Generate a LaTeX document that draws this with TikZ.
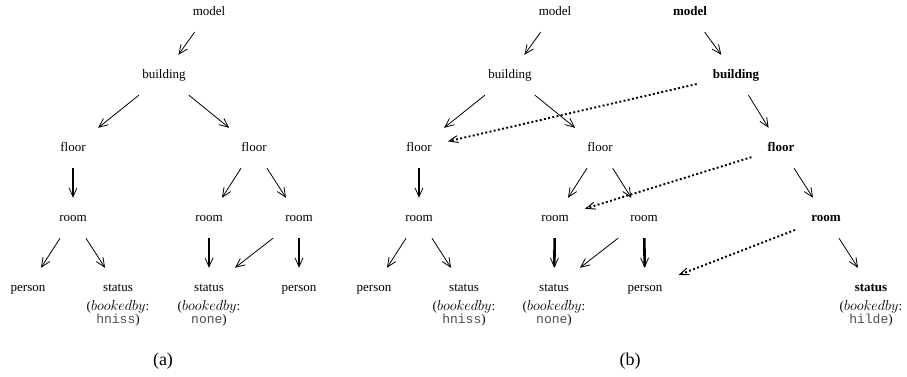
\documentclass[tikz,border=0pt]{standalone}
\usepackage{fix-cm}
\usepackage{fontspec}
\setmainfont{Liberation Serif}
\setmonofont{Liberation Mono}
\usetikzlibrary{arrows.meta}

% the attribute name in math italic, the value in typewriter
\newcommand{\attrname}{{\fontsize{14.4}{14}\selectfont$bookedby$}}
\newcommand{\attrval}[1]{\textcolor{black!70}{\texttt{#1}}}

\begin{document}
\begin{tikzpicture}[x=1pt,y=-1pt,
  every node/.style={font=\fontsize{13}{14}\selectfont, inner xsep=16pt, inner ysep=0pt,
    text height=9pt, text depth=3pt, minimum height=40pt},
  heavy/.style={font=\fontsize{13}{14}\selectfont\bfseries},
  link/.style={-{Straight Barb[length=9pt,width=8pt,line width=0pt 1]}, line width=0.8pt},
  strong/.style={-{Straight Barb[length=9pt,width=8pt,line width=0pt 0.3]}, line width=2.6pt},
  ref/.style={-{Straight Barb[length=9pt,width=7pt,line width=0pt 0.5]}, line width=1.9pt,
    dash pattern=on 1.9pt off 2.4pt},
  detail/.style={anchor=base, inner sep=0pt, minimum height=0pt},
  caption/.style={font=\fontsize{18}{20}\selectfont, inner sep=0pt, minimum height=0pt,
    text height=12pt, text depth=4pt}]

\useasboundingbox (0,0) rectangle (907,376);

% ---------- (a) ----------
\node (am)  at (209,12)  {model};
\node (ab)  at (164,75)  {building};
\node (af1) at (73,148)  {floor};
\node (af2) at (254,148) {floor};
\node (ar1) at (73,218)  {room};
\node (ar2) at (209,218) {room};
\node (ar3) at (299,218) {room};
\node (ap1) at (28,288)  {person};
\node (as1) at (118,288) {status};
\node (as2) at (209,288) {status};
\node (ap2) at (299,288) {person};
\node[detail] (as1a) at ([yshift=-19pt]as1.base) {(\attrname:};
\node[detail] (as1b) at ([yshift=-13pt]as1a.base) {\attrval{hniss})};
\node[detail] (as2a) at ([yshift=-19pt]as2.base) {(\attrname:};
\node[detail] (as2b) at ([yshift=-13pt]as2a.base) {\attrval{none})};

\draw[link]   (am)  -- (ab);
\draw[link]   (ab)  -- (af1);
\draw[link]   (ab)  -- (af2);
\draw[strong] (af1) -- (ar1);
\draw[link]   (af2) -- (ar2);
\draw[link]   (af2) -- (ar3);
\draw[link]   (ar1) -- (ap1);
\draw[link]   (ar1) -- (as1);
\draw[strong] (ar2) -- (as2);
\draw[link]   (ar3) -- (as2);
\draw[strong] (ar3) -- (ap2);

\node[caption] (capa) at (163,361) {(a)};

% ---------- (b) ----------
\node (bm)  at (555,12)  {model};
\node (bb)  at (510,75)  {building};
\node (bf1) at (419,148) {floor};
\node (bf2) at (600,148) {floor};
\node (br1) at (419,218) {room};
\node (br2) at (555,218) {room};
\node (br3) at (644,218) {room};
\node (bp1) at (374,288) {person};
\node (bs1) at (464,288) {status};
\node (bs2) at (554,288) {status};
\node (bp2) at (645,288) {person};
\node[detail] (bs1a) at ([yshift=-19pt]bs1.base) {(\attrname:};
\node[detail] (bs1b) at ([yshift=-13pt]bs1a.base) {\attrval{hniss})};
\node[detail] (bs2a) at ([yshift=-19pt]bs2.base) {(\attrname:};
\node[detail] (bs2b) at ([yshift=-13pt]bs2a.base) {\attrval{none})};

\draw[link]   (bm)  -- (bb);
\draw[link]   (bb)  -- (bf1);
\draw[link]   (bb)  -- (bf2);
\draw[strong] (bf1) -- (br1);
\draw[link]   (bf2) -- (br2);
\draw[link]   (bf2) -- (br3);
\draw[link]   (br1) -- (bp1);
\draw[link]   (br1) -- (bs1);
\draw[strong] (br2) -- (bs2);
\draw[link]   (br3) -- (bs2);
\draw[strong] (br3) -- (bp2);

% highlighted path
\node[heavy] (cm) at (690,12)  {model};
\node[heavy] (cb) at (736,75)  {building};
\node[heavy] (cf) at (781,148) {floor};
\node[heavy] (cr) at (826,218) {room};
\node[heavy] (cs) at (871,288) {status};
\node[detail] (csa) at ([yshift=-19pt]cs.base) {(\attrname:};
\node[detail] (csb) at ([yshift=-13pt]csa.base) {\attrval{hilde})};

\draw[link] (cm) -- (cb);
\draw[link] (cb) -- (cf);
\draw[link] (cf) -- (cr);
\draw[link] (cr) -- (cs);

\draw[ref] (cb) -- (bf1);
\draw[ref] (cf) -- (br2);
\draw[ref] (cr) -- (bp2);

\node[caption] (capb) at (630,361) {(b)};
\end{tikzpicture}
\end{document}
